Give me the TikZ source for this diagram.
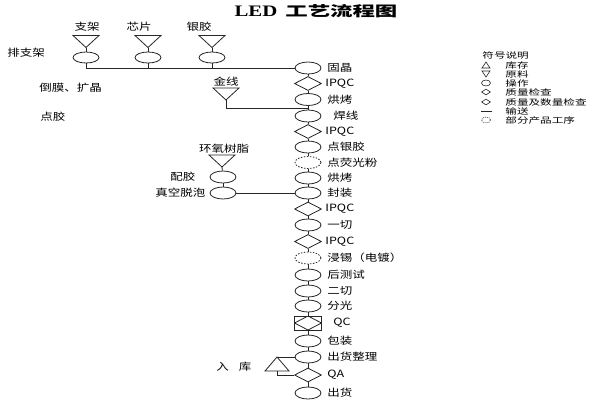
\documentclass[tikz,border=0pt]{standalone}
\usepackage{fontspec}
\newfontfamily\cjk[FakeStretch=1.25]{Noto Sans CJK SC}
\newfontfamily\cjkleg[FakeStretch=1.45]{Noto Sans CJK SC}
\newfontfamily\cjktitle[FakeStretch=1.6]{Noto Sans CJK SC}
\newfontfamily\ledfont[FakeStretch=1.3]{Liberation Serif}
\usetikzlibrary{shapes.geometric}
\tikzset{
  rawtri/.pic={\draw (-13,-6) -- (13,-6) -- (0,6) -- cycle; \coordinate (-apex) at (0,6);},
  invtri/.pic={\draw (-12,7) -- (12,7) -- (0,-7) -- cycle; \coordinate (-apex) at (0,-7); \coordinate (-base) at (0,7);}
}
\begin{document}
\begin{tikzpicture}[x=1pt,y=-1pt,line width=0.8pt,draw=black!85,
  op/.style={ellipse,draw,minimum width=26pt,minimum height=12pt,inner sep=0pt},
  opd/.style={op,dash pattern=on 1.5pt off 1.5pt},
  insp/.style={diamond,draw,minimum width=27pt,minimum height=14pt,inner sep=0pt},
  qcbox/.style={rectangle,draw,minimum width=27pt,minimum height=14pt,inner sep=0pt,
    path picture={\draw (path picture bounding box.north) -- (path picture bounding box.east) -- (path picture bounding box.south) -- (path picture bounding box.west) -- cycle;}},
  lab/.style={anchor=west,inner sep=0pt,font=\cjk\fontsize{10pt}{10pt}\selectfont},
  toplab/.style={inner sep=0pt,font=\cjk\fontsize{10pt}{10pt}\selectfont},
  leg/.style={anchor=west,inner sep=0pt,font=\cjkleg\fontsize{8pt}{8pt}\selectfont},
  legsym/.style={draw,inner sep=0pt,line width=0.6pt}
]
\useasboundingbox (0,0) rectangle (600,400);

% title
\node[inner sep=0pt] (title) at (316,11) {{\ledfont\bfseries\fontsize{16pt}{16pt}\selectfont LED}\hspace{8pt}{\cjktitle\bfseries\fontsize{14pt}{14pt}\selectfont 工艺流程图}};

% main column
\foreach \n/\s/\y/\lx/\t in {
1/op/68/327/固晶,
2/insp/83.5/325/IPQC,
3/op/99.5/327/烘烤,
4/op/116/333/焊线,
5/insp/131.5/325/IPQC,
6/op/147/327/点银胶,
7/opd/162.5/327/点荧光粉,
8/op/178/327/烘烤,
9/op/193/327/封装,
10/insp/209/325/IPQC,
11/op/225/327/一切,
12/insp/241.5/325/IPQC,
13/opd/258/327/浸锡（电镀）,
14/op/275/327/后测试,
15/op/291/327/二切,
16/op/306/327/分光,
17/qcbox/323/333/QC,
18/op/341/327/包装,
19/op/357/327/出货整理,
20/insp/375/327/QA,
21/op/393/327/出货}
{\node[\s] (m\n) at (308,\y) {}; \node[lab] (l\n) at (\lx,\y) {\t};}

\foreach \i in {1,...,20}{\pgfmathtruncatemacro\j{\i+1}\draw (m\i) -- (m\j);}

% top raw materials
\foreach \n/\x/\lx/\t in {1/86/87/支架,2/148/139/芯片,3/212/199/银胶}{
  \pic (t\n) at (\x,41.5) {rawtri};
  \node[op,minimum height=11pt] (c\n) at (\x,57.5) {};
  \node[toplab] (q\n) at (\lx,27) {\t};
  \draw (t\n-apex) -- (c\n);
}
\draw (c1) |- (m1);
\draw (c2) -- (c2 |- m1);
\draw (c3) -- (c3 |- m1);

% left notes
\node[lab] (p1) at (7,53) {排支架};
\node[lab] (p2) at (39,88) {倒膜、扩晶};
\node[lab] (p3) at (40,117) {点胶};

% gold wire
\pic (t4) at (226,94) {rawtri};
\node[toplab] (q4) at (226,82) {金线};
\coordinate (j1) at (308,108);
\draw (t4-apex) |- (j1);

% epoxy branch
\pic (t5) at (222,161) {rawtri};
\node[toplab] (q5) at (224,149) {环氧树脂};
\node[op] (c5) at (223,177) {};
\node[op] (c6) at (223,193) {};
\node[lab] (p5) at (170,177) {配胶};
\node[lab] (p6) at (155,193) {真空脱泡};
\draw (t5-apex) -- (c5);
\draw (c5) -- (c6);
\draw (c6) -- (m9);

% storage
\pic (rk) at (277,364) {invtri};
\node[lab] (p7) at (216,367) {入\hspace{10pt}库};
\draw (m19.west) -- (rk-apex);
\draw (m20) -| (rk-base);

% legend
\node[leg] (lh) at (482,55) {符号说明};
\draw[line width=0.6pt] (482,68) -- (490,68) -- (486,62) -- cycle;
\draw[line width=0.6pt] (482,71) -- (490,71) -- (486,77) -- cycle;
\node[legsym,ellipse,minimum width=9pt,minimum height=6pt] (s3) at (486,83) {};
\node[legsym,diamond,minimum width=9pt,minimum height=6pt] (s4) at (486,92) {};
\node[legsym,diamond,minimum width=9pt,minimum height=6pt] (s5) at (486,102) {};
\draw[line width=0.6pt] (481,111) -- (492,111);
\node[legsym,ellipse,minimum width=9pt,minimum height=6pt,dash pattern=on 1pt off 1pt] (s7) at (486,120) {};
\foreach \k/\y/\t in {1/65/库存,2/74/原料,3/83/操作,4/92/质量检查,5/102/质量及数量检查,6/111/输送,7/120/部分产品工序}
  {\node[leg] (g\k) at (505,\y) {\t};}
\end{tikzpicture}
\end{document}
